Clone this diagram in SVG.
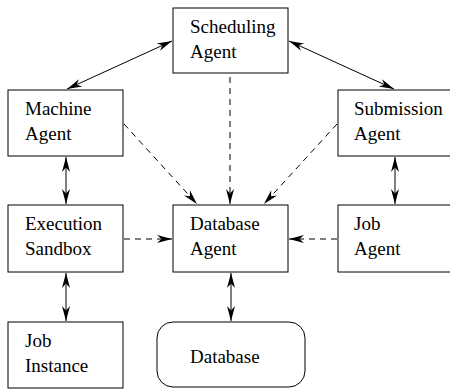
<svg xmlns="http://www.w3.org/2000/svg" width="450" height="390" viewBox="0 0 450 390">
<style>
.box{fill:#fff;stroke:#000;stroke-width:1}
.lbl{font-family:"Liberation Serif","Times New Roman",serif;font-size:19px;fill:#000}
.ln{stroke:#000;stroke-width:1;fill:none}
.dash{stroke-dasharray:6,5}
</style>
<defs>
<marker id="ah" viewBox="-16 -5 17 10" refX="0" refY="0" markerWidth="17" markerHeight="10" markerUnits="userSpaceOnUse" orient="auto-start-reverse">
<path d="M0,0 L-15,-4 L-10.5,0 L-15,4 Z" fill="#000"/>
</marker>
</defs>
<g id="scheduling"><rect class="box" x="173" y="8" width="115" height="65"/><text class="lbl" x="190" y="33">Scheduling</text><text class="lbl" x="190" y="58">Agent</text></g>
<g id="machine"><rect class="box" x="8" y="90" width="115" height="66"/><text class="lbl" x="25" y="115">Machine</text><text class="lbl" x="25" y="140">Agent</text></g>
<g id="submission"><rect class="box" x="338" y="90" width="115" height="66"/><text class="lbl" x="354" y="115">Submission</text><text class="lbl" x="354" y="140">Agent</text></g>
<g id="execution"><rect class="box" x="8" y="205" width="115" height="67"/><text class="lbl" x="25" y="230">Execution</text><text class="lbl" x="25" y="255">Sandbox</text></g>
<g id="dbagent"><rect class="box" x="173" y="205" width="115" height="67"/><text class="lbl" x="190" y="230">Database</text><text class="lbl" x="190" y="255">Agent</text></g>
<g id="jobagent"><rect class="box" x="338" y="205" width="115" height="67"/><text class="lbl" x="354" y="230">Job</text><text class="lbl" x="354" y="255">Agent</text></g>
<g id="jobinstance"><rect class="box" x="8" y="322" width="115" height="66"/><text class="lbl" x="25" y="347">Job</text><text class="lbl" x="25" y="372">Instance</text></g>
<g id="database"><rect class="box" x="157" y="322" width="148" height="65" rx="16" ry="16"/><text class="lbl" x="190" y="363">Database</text></g>
<g id="connectors">
<line class="ln" x1="172" y1="41" x2="67" y2="89" marker-start="url(#ah)" marker-end="url(#ah)"/>
<line class="ln" x1="289" y1="41" x2="394" y2="89" marker-start="url(#ah)" marker-end="url(#ah)"/>
<line class="ln" x1="66" y1="157" x2="66" y2="204" marker-start="url(#ah)" marker-end="url(#ah)"/>
<line class="ln" x1="395" y1="157" x2="395" y2="204" marker-start="url(#ah)" marker-end="url(#ah)"/>
<line class="ln" x1="66" y1="273" x2="66" y2="321" marker-start="url(#ah)" marker-end="url(#ah)"/>
<line class="ln" x1="231" y1="273" x2="231" y2="321" marker-start="url(#ah)" marker-end="url(#ah)"/>
<line class="ln dash" x1="124" y1="124" x2="197" y2="204" marker-end="url(#ah)"/>
<line class="ln dash" x1="230" y1="77" x2="230" y2="204" marker-end="url(#ah)"/>
<line class="ln dash" x1="337" y1="124" x2="264" y2="204" marker-end="url(#ah)"/>
<line class="ln dash" x1="124" y1="239" x2="172" y2="239" marker-end="url(#ah)"/>
<line class="ln dash" x1="337" y1="239" x2="289" y2="239" marker-end="url(#ah)"/>
</g>
</svg>
